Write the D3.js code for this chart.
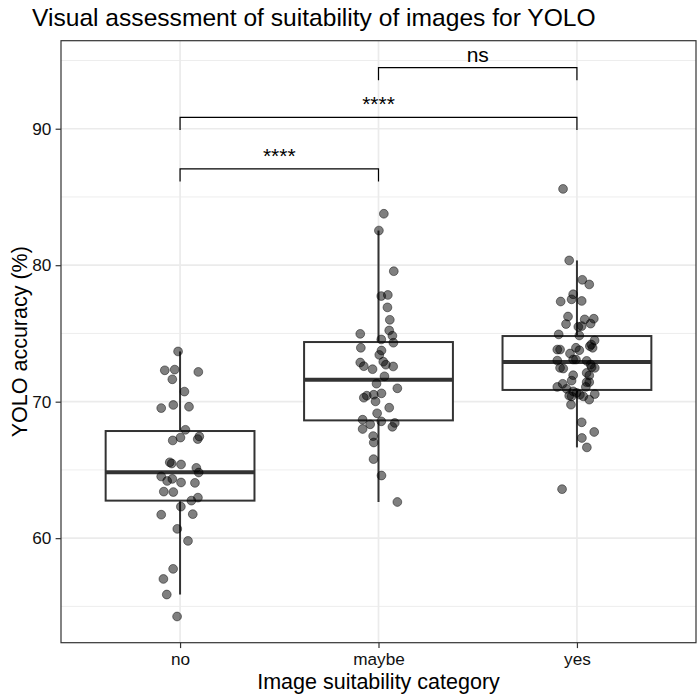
<!DOCTYPE html>
<html>
<head>
<meta charset="utf-8">
<script src="https://cdn.jsdelivr.net/npm/d3@7"></script>
<style>
  html, body { margin: 0; padding: 0; background: #ffffff; }
  svg { display: block; }
  text { font-family: "Liberation Sans", Arial, Helvetica, sans-serif; }
</style>
</head>
<body>
<svg id="chart" width="699" height="698"></svg>
<script>
// ---------------- DATA ----------------
const categories = ["no", "maybe", "yes"];

const valuesNo = [73.68, 72.30, 72.35, 72.18, 71.64, 70.74, 69.53, 69.76, 69.63, 67.94, 67.37, 67.16, 67.45, 67.26,
  65.56, 65.47, 65.40, 65.15, 64.81, 64.52, 64.19, 64.34, 64.08, 64.05, 63.41, 63.38, 62.75, 62.97, 62.31, 61.72,
  61.76, 60.68, 59.80, 57.75, 57.01, 55.87, 54.26];
const jitterNo = [-0.010, -0.077, -0.027, 0.092, -0.039, 0.022, -0.095, -0.034, 0.045, 0.027, 0.002, -0.037, 0.097, 0.089,
  -0.052, -0.042, 0.005, 0.082, 0.094, -0.095, -0.065, -0.039, 0.005, 0.075, -0.082, -0.034, 0.057, 0.090, 0.004, -0.095,
  0.064, -0.014, 0.040, -0.035, -0.084, -0.067, -0.015];

const valuesMaybe = [83.77, 82.54, 79.56, 77.74, 77.82, 76.91, 76.00, 74.97, 75.22, 74.83, 74.56, 74.32, 73.95, 73.75,
  73.43, 72.87, 72.60, 72.93, 72.71, 72.38, 72.58, 71.86, 71.32, 70.98, 70.29, 70.44, 70.51, 70.61, 70.02, 69.56,
  69.15, 68.68, 68.56, 68.34, 68.00, 68.16, 68.44, 67.48, 67.01, 65.79, 64.59, 62.65];
const jitterMaybe = [0.027, 0.002, 0.077, 0.014, 0.047, 0.045, 0.057, -0.092, 0.054, 0.070, 0.014, 0.075, -0.089, 0.015,
  0.004, -0.092, -0.074, 0.024, 0.037, -0.030, 0.074, 0.030, -0.010, 0.095, -0.074, -0.059, -0.024, 0.015, -0.015, 0.054,
  -0.007, -0.080, 0.014, -0.042, -0.080, 0.070, 0.082, -0.027, -0.024, -0.025, 0.015, 0.095];

const valuesYes = [85.59, 80.35, 78.93, 78.59, 77.87, 77.50, 77.38, 77.34, 76.24, 76.03, 76.08, 75.69, 75.72, 75.49,
  75.54, 74.93, 74.85, 74.49, 74.19, 73.95, 74.07, 73.82, 73.82, 73.95, 73.77, 73.53, 73.09, 73.09, 73.01, 72.99,
  72.72, 72.48, 72.53, 72.48, 72.43, 72.11, 71.92, 71.94, 71.54, 71.43, 71.43, 71.31, 71.08, 70.94, 71.08, 70.76,
  70.64, 70.44, 70.39, 70.39, 70.51, 70.56, 70.15, 69.78, 68.49, 67.78, 67.34, 66.65, 63.59];
const jitterYes = [-0.070, -0.039, 0.027, 0.062, -0.019, -0.027, 0.024, -0.082, -0.045, 0.039, 0.085, -0.055, 0.069, 0.007,
  0.024, -0.092, 0.012, 0.089, 0.072, 0.079, 0.065, -0.099, -0.085, -0.005, 0.012, -0.035, -0.019, -0.005, -0.099, 0.049,
  0.069, 0.090, 0.074, -0.085, -0.069, 0.049, 0.062, -0.019, -0.027, 0.049, 0.062, -0.072, -0.099, -0.052, 0.045, -0.019,
  -0.002, -0.039, -0.027, 0.032, 0.015, 0.090, 0.062, -0.030, 0.024, 0.087, 0.025, 0.050, -0.075];

// box statistics: lower whisker, Q1, median, Q3, upper whisker
const whiskerLow = [55.87, 62.65, 66.65];
const quartile1 = [62.75, 68.63, 70.86];
const medians = [64.83, 71.60, 72.90];
const quartile3 = [67.85, 74.37, 74.81];
const whiskerHigh = [73.68, 82.54, 80.35];

// significance brackets
const compFrom = ["maybe", "no", "no"];
const compTo = ["yes", "yes", "maybe"];
const compY = [94.48, 90.83, 87.06];
const compLabel = ["ns", "****", "****"];
const tipLength = 0.92;

const yTicks = [60, 70, 80, 90];
const yMinorTicks = [55, 65, 75, 85, 95];
const yDomain = [52.34, 96.45];

const titleText = "Visual assessment of suitability of images for YOLO";
const xTitle = "Image suitability category";
const yTitle = "YOLO accuracy (%)";

// ---------------- LAYOUT ----------------
const W = 699, H = 698;
const margin = { top: 40.7, right: 3, bottom: 55.3, left: 61 };
const pw = W - margin.left - margin.right;
const ph = H - margin.top - margin.bottom;

const svg = d3.select("#chart");
const g = svg.append("g").attr("transform", `translate(${margin.left},${margin.top})`);

const x = d3.scalePoint().domain(categories).range([0, pw]).padding(0.6);
const step = x.step();
const y = d3.scaleLinear().domain(yDomain).range([ph, 0]);

// panel background
g.append("rect").attr("x", 0).attr("y", 0).attr("width", pw).attr("height", ph).attr("fill", "#ffffff");

// minor grid
g.selectAll(".gminor").data(yMinorTicks).join("line")
  .attr("x1", 0).attr("x2", pw)
  .attr("y1", d => y(d)).attr("y2", d => y(d))
  .attr("stroke", "#ebebeb").attr("stroke-width", 0.9);
// major grid
g.selectAll(".gmajor").data(yTicks).join("line")
  .attr("x1", 0).attr("x2", pw)
  .attr("y1", d => y(d)).attr("y2", d => y(d))
  .attr("stroke", "#ebebeb").attr("stroke-width", 1.7);
g.selectAll(".gx").data(categories).join("line")
  .attr("x1", d => x(d)).attr("x2", d => x(d))
  .attr("y1", 0).attr("y2", ph)
  .attr("stroke", "#ebebeb").attr("stroke-width", 1.7);

// boxplots
const boxW = step * 0.75;
const boxData = categories.map((c, i) => ({
  c, lo: whiskerLow[i], q1: quartile1[i], med: medians[i], q3: quartile3[i], hi: whiskerHigh[i]
}));
const bx = g.selectAll(".box").data(boxData).join("g");
bx.append("line")
  .attr("x1", d => x(d.c)).attr("x2", d => x(d.c))
  .attr("y1", d => y(d.hi)).attr("y2", d => y(d.q3))
  .attr("stroke", "#333333").attr("stroke-width", 2);
bx.append("line")
  .attr("x1", d => x(d.c)).attr("x2", d => x(d.c))
  .attr("y1", d => y(d.q1)).attr("y2", d => y(d.lo))
  .attr("stroke", "#333333").attr("stroke-width", 2);
bx.append("rect")
  .attr("x", d => x(d.c) - boxW / 2).attr("width", boxW)
  .attr("y", d => y(d.q3)).attr("height", d => y(d.q1) - y(d.q3))
  .attr("fill", "#ffffff").attr("stroke", "#333333").attr("stroke-width", 2);
bx.append("line")
  .attr("x1", d => x(d.c) - boxW / 2).attr("x2", d => x(d.c) + boxW / 2)
  .attr("y1", d => y(d.med)).attr("y2", d => y(d.med))
  .attr("stroke", "#333333").attr("stroke-width", 4);

// jittered points
const groups = [
  { c: "no", v: valuesNo, j: jitterNo },
  { c: "maybe", v: valuesMaybe, j: jitterMaybe },
  { c: "yes", v: valuesYes, j: jitterYes }
];
const pts = [];
groups.forEach(gr => gr.v.forEach((v, i) => pts.push({ c: gr.c, v, j: gr.j[i] })));
g.selectAll(".pt").data(pts).join("circle")
  .attr("cx", d => x(d.c) + d.j * step)
  .attr("cy", d => y(d.v))
  .attr("r", 4.4)
  .attr("fill", "rgba(0,0,0,0.5)")
  .attr("stroke", "rgba(0,0,0,0.45)")
  .attr("stroke-width", 1);

// brackets
const comps = compFrom.map((f, i) => ({ f, t: compTo[i], yv: compY[i], label: compLabel[i] }));
const br = g.selectAll(".br").data(comps).join("g");
br.append("path")
  .attr("d", d => `M${x(d.f)},${y(d.yv - tipLength)}V${y(d.yv)}H${x(d.t)}V${y(d.yv - tipLength)}`)
  .attr("fill", "none").attr("stroke", "#000000").attr("stroke-width", 1.2);
br.append("text")
  .attr("x", d => (x(d.f) + x(d.t)) / 2)
  .attr("y", d => y(d.yv) - 6)
  .attr("text-anchor", "middle")
  .attr("font-size", 21)
  .attr("fill", "#000000")
  .text(d => d.label);

// panel border
g.append("rect").attr("x", 0).attr("y", 0).attr("width", pw).attr("height", ph)
  .attr("fill", "none").attr("stroke", "#333333").attr("stroke-width", 1.2);

// axes
const yAxis = d3.axisLeft(y).tickValues(yTicks).tickSize(5.4).tickPadding(4.3);
const ya = g.append("g").call(yAxis);
ya.select(".domain").remove();
ya.selectAll(".tick line").attr("stroke", "#333333").attr("stroke-width", 1.2);
ya.selectAll(".tick text").attr("font-size", 17.2).attr("fill", "#111111")
  .attr("font-family", "Liberation Sans, Arial, sans-serif");

const xAxis = d3.axisBottom(x).tickSize(5.4).tickPadding(4.3);
const xa = g.append("g").attr("transform", `translate(0,${ph})`).call(xAxis);
xa.select(".domain").remove();
xa.selectAll(".tick line").attr("stroke", "#333333").attr("stroke-width", 1.2);
xa.selectAll(".tick text").attr("font-size", 17.2).attr("fill", "#111111")
  .attr("font-family", "Liberation Sans, Arial, sans-serif");

// titles
svg.append("text").attr("x", 32).attr("y", 26)
  .attr("font-size", 24.6).attr("fill", "#000000").text(titleText);
svg.append("text").attr("x", margin.left + pw / 2).attr("y", 689)
  .attr("text-anchor", "middle").attr("font-size", 21.5).attr("fill", "#000000").text(xTitle);
svg.append("text")
  .attr("transform", `translate(26.5,${margin.top + ph / 2}) rotate(-90)`)
  .attr("text-anchor", "middle").attr("font-size", 21.5).attr("fill", "#000000").text(yTitle);
</script>
</body>
</html>
